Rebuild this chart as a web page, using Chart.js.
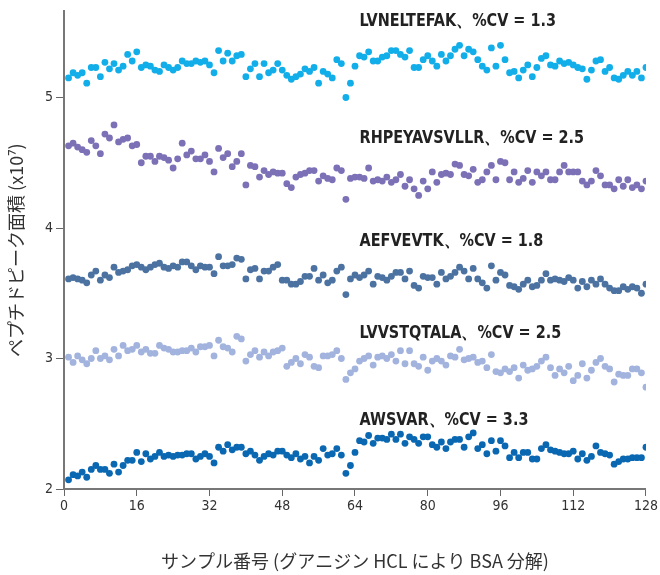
<!DOCTYPE html>
<html>
<head>
<meta charset="utf-8">
<script src="https://cdn.jsdelivr.net/npm/chart.js@4"></script>
<style>
  html, body { margin: 0; padding: 0; background: #fff; }
  #wrap { width: 660px; height: 575px; }
</style>
</head>
<body>
<div id="wrap"><canvas id="myChart" width="660" height="575"></canvas></div>
<script>
// sample numbers (x)
const sampleNo = [
  1,2,3,4,5,6,7,8,9,10,11,12,13,14,15,16,
  17,18,19,20,21,22,23,24,25,26,27,28,29,30,31,32,
  33,34,35,36,37,38,39,40,41,42,43,44,45,46,47,48,
  49,50,51,52,53,54,55,56,57,58,59,60,61,62,63,64,
  65,66,67,68,69,70,71,72,73,74,75,76,77,78,79,80,
  81,82,83,84,85,86,87,88,89,90,91,92,93,94,95,96,
  97,98,99,100,101,102,103,104,105,106,107,108,109,110,111,112,
  113,114,115,116,117,118,119,120,121,122,123,124,125,126,127,128
];

// peak areas (x10^7)
const lvneltefak = [
  5.15,5.19,5.17,5.19,5.11,5.23,5.23,5.16,5.27,5.22,5.26,5.21,5.24,5.33,5.28,5.35,
  5.23,5.25,5.24,5.21,5.20,5.25,5.23,5.21,5.23,5.28,5.26,5.26,5.28,5.27,5.28,5.25,
  5.19,5.36,5.28,5.34,5.28,5.32,5.33,5.16,5.22,5.26,5.16,5.26,5.19,5.21,5.26,5.21,
  5.17,5.14,5.16,5.18,5.22,5.20,5.23,5.11,5.20,5.18,5.15,5.29,5.26,5.00,5.11,5.24,
  5.32,5.31,5.35,5.28,5.28,5.31,5.32,5.36,5.36,5.33,5.31,5.36,5.23,5.23,5.29,5.32,
  5.28,5.24,5.33,5.28,5.32,5.37,5.40,5.32,5.37,5.35,5.29,5.24,5.21,5.38,5.24,5.40,
  5.29,5.19,5.20,5.15,5.21,5.25,5.16,5.23,5.30,5.32,5.25,5.24,5.28,5.26,5.27,5.25,
  5.23,5.22,5.14,5.21,5.28,5.29,5.20,5.23,5.15,5.14,5.17,5.20,5.17,5.20,5.15,5.23
];
const rhpeyavsvllr = [
  4.63,4.65,4.62,4.60,4.58,4.67,4.63,4.57,4.72,4.69,4.79,4.66,4.68,4.69,4.63,4.64,
  4.50,4.55,4.55,4.51,4.55,4.54,4.52,4.46,4.53,4.65,4.56,4.59,4.53,4.53,4.56,4.51,
  4.43,4.61,4.54,4.57,4.47,4.51,4.57,4.33,4.48,4.47,4.39,4.44,4.41,4.43,4.42,4.42,
  4.34,4.31,4.39,4.41,4.42,4.44,4.44,4.36,4.40,4.38,4.37,4.46,4.44,4.22,4.38,4.39,
  4.39,4.38,4.46,4.36,4.37,4.36,4.39,4.35,4.37,4.41,4.32,4.37,4.30,4.25,4.36,4.30,
  4.43,4.35,4.41,4.42,4.41,4.49,4.48,4.41,4.40,4.45,4.35,4.37,4.43,4.48,4.37,4.51,
  4.50,4.37,4.43,4.35,4.38,4.44,4.35,4.43,4.40,4.43,4.37,4.37,4.43,4.48,4.43,4.43,
  4.43,4.36,4.33,4.36,4.44,4.40,4.33,4.33,4.30,4.37,4.32,4.37,4.31,4.33,4.30,4.36
];
const aefvevtk = [
  3.61,3.62,3.61,3.60,3.58,3.64,3.67,3.60,3.64,3.62,3.70,3.66,3.67,3.68,3.71,3.72,
  3.70,3.68,3.70,3.72,3.73,3.70,3.69,3.71,3.70,3.74,3.74,3.71,3.68,3.71,3.70,3.70,
  3.65,3.78,3.71,3.71,3.72,3.77,3.76,3.61,3.68,3.69,3.61,3.67,3.67,3.70,3.72,3.60,
  3.60,3.57,3.57,3.59,3.63,3.63,3.69,3.60,3.64,3.58,3.60,3.67,3.70,3.49,3.61,3.64,
  3.62,3.64,3.67,3.57,3.63,3.62,3.60,3.63,3.66,3.66,3.61,3.67,3.56,3.54,3.63,3.62,
  3.62,3.57,3.66,3.61,3.63,3.66,3.70,3.67,3.61,3.69,3.61,3.58,3.54,3.71,3.60,3.66,
  3.64,3.56,3.55,3.53,3.57,3.60,3.55,3.56,3.60,3.65,3.60,3.61,3.60,3.59,3.62,3.60,
  3.54,3.59,3.55,3.60,3.57,3.61,3.57,3.54,3.52,3.52,3.55,3.53,3.55,3.54,3.50,3.57
];
const lvvstqtala = [
  3.01,2.97,3.02,2.99,2.96,3.00,3.06,3.00,3.02,2.99,3.07,3.02,3.10,3.06,3.07,3.10,
  3.05,3.07,3.04,3.04,3.10,3.08,3.07,3.05,3.05,3.06,3.06,3.08,3.05,3.09,3.09,3.10,
  3.02,3.14,3.09,3.08,3.05,3.17,3.15,2.98,3.03,3.06,3.01,3.05,3.02,3.05,3.06,3.08,
  2.94,2.97,3.00,2.96,3.03,3.01,2.94,2.93,3.02,3.02,3.03,3.06,3.00,2.84,2.89,2.92,
  2.98,3.00,3.02,2.95,3.01,3.02,3.00,3.03,2.98,3.06,2.96,3.06,2.96,2.94,3.01,2.91,
  2.98,3.00,2.98,2.95,3.02,3.01,3.07,2.99,3.00,3.01,2.97,2.98,2.93,3.03,2.90,2.89,
  2.92,2.90,2.93,2.85,2.95,2.91,2.92,2.94,2.98,3.01,2.93,2.87,2.92,2.89,2.94,2.83,
  2.87,2.96,2.85,2.91,2.97,3.00,2.94,2.92,2.82,2.88,2.87,2.87,2.92,2.92,2.89,2.78
];
const awsvar = [
  2.07,2.11,2.10,2.13,2.09,2.15,2.18,2.15,2.15,2.12,2.19,2.13,2.18,2.22,2.22,2.28,
  2.21,2.27,2.23,2.25,2.28,2.25,2.26,2.25,2.26,2.26,2.27,2.27,2.23,2.25,2.27,2.25,
  2.20,2.32,2.29,2.34,2.30,2.32,2.32,2.27,2.29,2.26,2.22,2.25,2.27,2.26,2.29,2.29,
  2.26,2.24,2.27,2.23,2.25,2.20,2.25,2.22,2.31,2.26,2.27,2.31,2.26,2.12,2.18,2.28,
  2.37,2.36,2.41,2.35,2.39,2.39,2.38,2.42,2.38,2.42,2.35,2.40,2.38,2.35,2.40,2.40,
  2.34,2.32,2.36,2.31,2.36,2.38,2.38,2.32,2.40,2.43,2.31,2.34,2.27,2.37,2.29,2.37,
  2.33,2.24,2.28,2.24,2.28,2.28,2.23,2.23,2.31,2.34,2.30,2.29,2.28,2.27,2.27,2.29,
  2.23,2.27,2.22,2.25,2.33,2.28,2.27,2.26,2.19,2.21,2.23,2.23,2.24,2.24,2.24,2.32
];

const seriesNames = ['LVNELTEFAK', 'RHPEYAVSVLLR', 'AEFVEVTK', 'LVVSTQTALA', 'AWSVAR'];
const seriesCV = ['1.3', '2.5', '1.8', '2.5', '3.3'];
const seriesColors = ['#12aee9', '#7c70b6', '#4b72a0', '#a2b3de', '#0a68b2'];
// where each label sits, in data units
const labelX = [65, 65, 65, 65, 65];
const labelY = [5.585, 4.69, 3.895, 3.19, 2.525];

const xTicks = [0, 16, 32, 48, 64, 80, 96, 112, 128];
const yTicks = [2, 3, 4, 5];

const allSeries = [lvneltefak, rhpeyavsvllr, aefvevtk, lvvstqtala, awsvar];

const narrow = "'Liberation Sans Narrow', 'DejaVu Sans Condensed', 'Liberation Sans', sans-serif";
const jpFont = "'Noto Sans CJK JP', 'Noto Sans', sans-serif";

const peptideLabels = {
  id: 'peptideLabels',
  afterDatasetsDraw(chart) {
    const ctx = chart.ctx;
    const xs = chart.scales.x, ys = chart.scales.y;
    ctx.save();
    ctx.font = "bold 18px " + narrow;
    ctx.fillStyle = '#222';
    ctx.textBaseline = 'middle';
    ctx.textAlign = 'left';
    seriesNames.forEach((n, i) => {
      ctx.save();
      ctx.translate(xs.getPixelForValue(labelX[i]), ys.getPixelForValue(labelY[i]));
      ctx.scale(0.89, 1); // condensed look
      ctx.fillText(n + '、%CV = ' + seriesCV[i], 0, 0);
      ctx.restore();
    });
    ctx.restore();
  }
};

new Chart(document.getElementById('myChart').getContext('2d'), {
  type: 'scatter',
  data: {
    datasets: allSeries.map((vals, i) => ({
      label: seriesNames[i],
      data: vals.map((v, k) => ({ x: sampleNo[k], y: v })),
      backgroundColor: seriesColors[i],
      borderColor: seriesColors[i],
      borderWidth: 0,
      pointRadius: 3.4
    }))
  },
  options: {
    responsive: false,
    animation: false,
    layout: { padding: { top: 10, right: 12, left: 0, bottom: 0 } },
    plugins: { legend: { display: false }, tooltip: { enabled: false } },
    scales: {
      x: {
        type: 'linear',
        min: 0,
        max: 128,
        afterBuildTicks: a => { a.ticks = xTicks.map(v => ({ value: v })); },
        afterFit: a => { a.height = 86; },
        ticks: { color: '#333', font: { family: narrow, size: 14 }, padding: 2, maxRotation: 0 },
        grid: { drawOnChartArea: false, drawTicks: true, tickLength: 7, color: '#666', lineWidth: 1 },
        border: { color: '#777', width: 2 },
        title: {
          display: true,
          text: 'サンプル番号 (グアニジン HCL により BSA 分解)',
          color: '#333',
          font: { family: jpFont, size: 18 },
          padding: { top: 4, bottom: 3 }
        }
      },
      y: {
        min: 2,
        max: 5.66,
        afterBuildTicks: a => { a.ticks = yTicks.map(v => ({ value: v })); },
        afterFit: a => { a.width = 64; },
        ticks: { color: '#333', font: { family: narrow, size: 14 }, padding: 3 },
        grid: { drawOnChartArea: false, drawTicks: true, tickLength: 8, color: '#666', lineWidth: 1 },
        border: { color: '#777', width: 2 },
        title: {
          display: true,
          text: 'ペプチドピーク面積 (x10⁷)',
          color: '#333',
          font: { family: jpFont, size: 18 },
          padding: { top: 5, bottom: 4 }
        }
      }
    }
  },
  plugins: [peptideLabels]
});
</script>
</body>
</html>
